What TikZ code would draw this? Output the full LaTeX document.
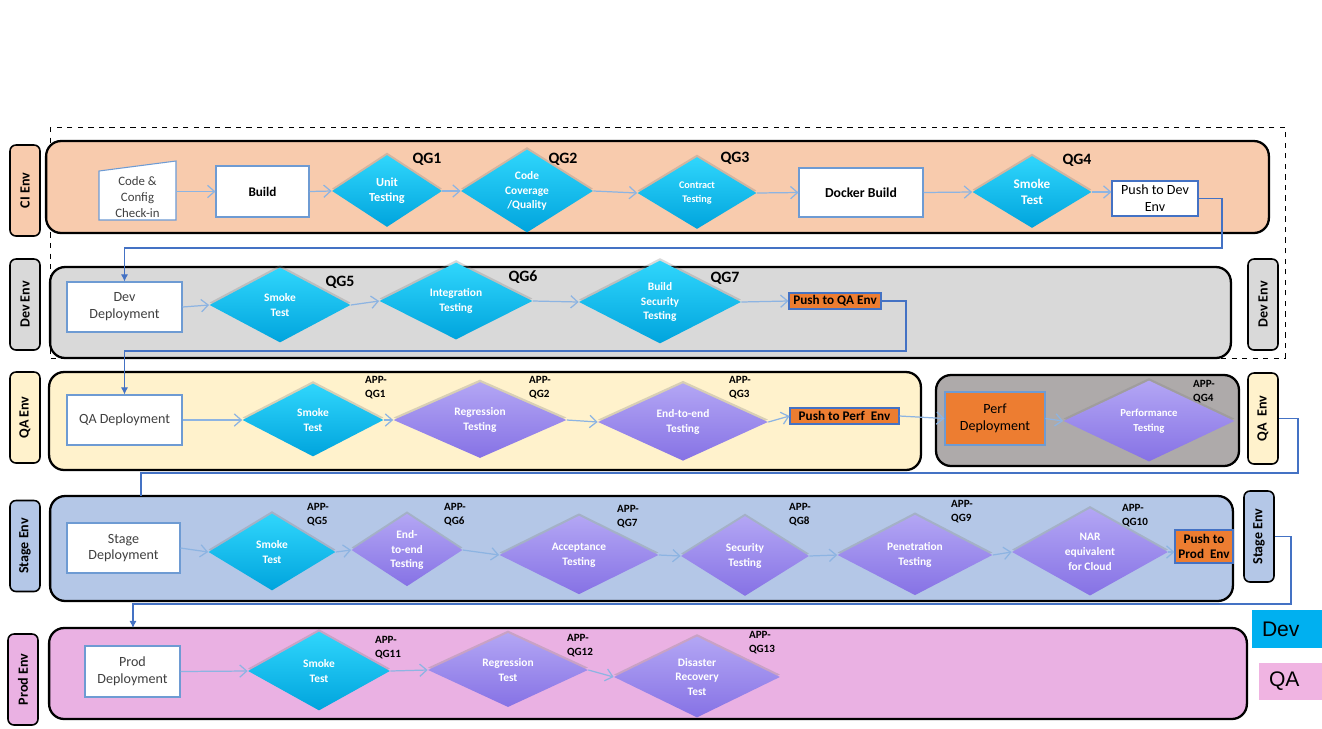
\documentclass[tikz,border=0pt]{standalone}
\usepackage{fontspec}
\setmainfont{Carlito}
\newfontfamily\keyfont{Liberation Sans}
\usetikzlibrary{shapes.geometric, arrows.meta, shadows}

\definecolor{ciFill}{HTML}{F8CBAD}
\definecolor{devFill}{HTML}{D9D9D9}
\definecolor{qaFill}{HTML}{FFF2CC}
\definecolor{perfFill}{HTML}{AEAAAA}
\definecolor{stageFill}{HTML}{B4C7E7}
\definecolor{prodFill}{HTML}{EAB1E3}
\definecolor{pushFill}{HTML}{ED7D31}
\definecolor{boxLine}{HTML}{6E9BD3}
\definecolor{pushLine}{HTML}{4472C4}
\definecolor{flowBlue}{HTML}{8DB4E2}
\definecolor{hopBlue}{HTML}{4472C4}
\definecolor{darkText}{HTML}{404040}
\definecolor{cyanTop}{HTML}{30D6FC}
\definecolor{cyanBot}{HTML}{00A4DD}
\definecolor{violetTop}{HTML}{B3A6F4}
\definecolor{violetBot}{HTML}{8672E5}
\definecolor{devKey}{HTML}{00B0F0}
\definecolor{qaKey}{HTML}{F0B4E2}

\tikzset{
  lane/.style={draw=black, line width=1.3pt, rounded corners=0.3cm, inner sep=0pt},
  envtag/.style={draw=black, line width=0.9pt, rounded corners=0.12cm, rotate=90,
    minimum width=1.82cm, minimum height=0.6cm, inner sep=0pt,
    font=\fontsize{8}{9}\selectfont\bfseries},
  wbox/.style={draw=boxLine, fill=white, line width=0.6pt, align=center, inner sep=1pt,
    text=darkText, font=\fontsize{8}{9.6}\selectfont},
  pushbox/.style={draw=pushLine, fill=pushFill, line width=0.6pt, align=center, inner sep=0pt,
    font=\fontsize{7.5}{9}\selectfont\bfseries},
  gate/.style={diamond, inner sep=0pt, text=white, align=center,
    font=\fontsize{6.5}{8.4}\selectfont\bfseries,
    drop shadow={shadow xshift=0pt, shadow yshift=0.05cm, opacity=0.3}},
  cyangate/.style={gate, top color=cyanTop, bottom color=cyanBot},
  violetgate/.style={gate, top color=violetTop, bottom color=violetBot},
  qg/.style={font=\fontsize{9}{10}\selectfont\bfseries},
  appqg/.style={align=left, font=\fontsize{6.3}{8}\selectfont\bfseries},
  flow/.style={draw=flowBlue, line width=0.7pt, ->},
  hop/.style={draw=hopBlue, line width=0.6pt, -{Latex[length=4pt,width=4pt]}},
  hopline/.style={draw=hopBlue, line width=0.6pt},
  keybox/.style={text width=1.0cm, inner xsep=0.2cm, align=left, font=\keyfont\fontsize{12}{14}\selectfont}
}

\begin{document}
\begin{tikzpicture}[x=0.02cm, y=-0.02cm, >={Straight Barb[length=4pt,width=7pt]}]

    \useasboundingbox (0,0) rectangle (1322,728);

    % CI + Dev frame
    \draw[dashed, thin] (50,127) rectangle (1285,358);

    % Lanes
    \node[lane, fill=ciFill, minimum width=24.46cm, minimum height=1.84cm] (ci) at (657.5,187) {};
    \node[lane, fill=devFill, minimum width=23.62cm, minimum height=1.82cm] (dev) at (640.5,312.5) {};
    \node[lane, fill=qaFill, minimum width=17.44cm, minimum height=1.96cm] (qa) at (485,421) {};
    \node[lane, fill=perfFill, minimum width=6.06cm, minimum height=1.82cm] (perf) at (1087.5,420.5) {};
    \node[lane, fill=stageFill, minimum width=23.66cm, minimum height=2.1cm] (stage) at (641.5,548.5) {};
    \node[lane, fill=prodFill, minimum width=23.96cm, minimum height=1.82cm] (prod) at (648,673.5) {};

    % Environment tags
    \node[envtag, fill=ciFill] (ciL) at (25,190.5) {CI Env};
    \node[envtag, fill=devFill] (devL) at (25,304.5) {Dev Env};
    \node[envtag, fill=devFill] (devR) at (1263,304.5) {Dev Env};
    \node[envtag, fill=qaFill] (qaL) at (25,417.5) {QA Env};
    \node[envtag, fill=qaFill] (qaR) at (1263,418.5) {QA\ \ Env};
    \node[envtag, fill=stageFill] (stageL) at (25,546) {Stage Env};
    \node[envtag, fill=stageFill] (stageR) at (1259,536.5) {Stage Env};
    \node[envtag, fill=prodFill] (prodL) at (23,679.5) {Prod Env};

    % CI row
    \filldraw[draw=boxLine, fill=white, line width=0.6pt] (99,171) -- (176,161) -- (176,220) -- (99,220) -- cycle;
    \node[align=center, text=darkText, font=\fontsize{7.3}{9}\selectfont, minimum width=1.54cm] (code) at (137.5,197) {Code \&\\Config\\Check-in};
    \node[wbox, text=black, font=\fontsize{7.5}{9}\selectfont\bfseries, minimum width=1.86cm, minimum height=1.02cm] (build) at (262.5,191.5) {Build};
    \node[cyangate, minimum width=2.2cm, minimum height=1.44cm, font=\fontsize{7}{8.6}\selectfont\bfseries] (unit) at (387,191) {Unit\\Testing};
    \node[cyangate, minimum width=2.64cm, minimum height=1.44cm] (cov) at (527,191) {Code\\Coverage\\/Quality};
    \node[cyangate, minimum width=2.38cm, minimum height=1.44cm, font=\fontsize{5.8}{7.6}\selectfont\bfseries] (contract) at (697,193) {Contract\\Testing};
    \node[wbox, text=black, font=\fontsize{7.8}{9}\selectfont\bfseries, minimum width=2.48cm, minimum height=0.98cm] (docker) at (861,192.5) {Docker Build};
    \node[cyangate, minimum width=2.38cm, minimum height=1.44cm, font=\fontsize{7.5}{9}\selectfont\bfseries] (smokeci) at (1032,192) {Smoke\\Test};
    \node[wbox, draw=pushLine, text=black, minimum width=1.72cm, minimum height=0.7cm] (pushdev) at (1155,198.5) {Push to Dev\\Env};
    \node[qg] (qg1) at (427,159) {QG1};
    \node[qg] (qg2) at (563,159) {QG2};
    \node[qg] (qg3) at (735,158) {QG3};
    \node[qg] (qg4) at (1077,160) {QG4};

    \draw[flow] (code.east |- build) -- (build.west);
    \draw[flow] (build.east) -- (unit.west);
    \draw[flow] (unit.east) -- (cov.west);
    \draw[flow] (cov.east) -- (contract.west);
    \draw[flow] (contract.east) -- (docker.west);
    \draw[flow] (docker.east) -- (smokeci.west);
    \draw[flow] (smokeci.east) -- (pushdev.west |- smokeci);

    % Dev row
    \node[wbox, minimum width=2.3cm, minimum height=1.0cm] (devdep) at (124.5,307) {Dev\\Deployment};
    \node[cyangate, minimum width=2.82cm, minimum height=1.5cm] (smokedev) at (280,305) {Smoke\\Test};
    \node[cyangate, minimum width=3.06cm, minimum height=1.44cm] (integ) at (456,301) {Integration\\Testing};
    \node[cyangate, minimum width=3.24cm, minimum height=1.66cm] (buildsec) at (660,302) {Build\\Security\\Testing};
    \node[pushbox, minimum width=1.84cm, minimum height=0.32cm] (pushqa) at (835,301) {Push to QA Env};
    \node[qg] (qg5) at (340,282) {QG5};
    \node[qg] (qg6) at (523,277) {QG6};
    \node[qg] (qg7) at (725,278) {QG7};

    \draw[flow] (devdep.east) -- (smokedev.west);
    \draw[flow] (smokedev.east) -- (integ.west);
    \draw[flow] (integ.east) -- (buildsec.west);
    \draw[flow] (buildsec.east) -- (pushqa.west);

    % QA row
    \node[wbox, minimum width=2.3cm, minimum height=1.0cm] (qadep) at (124.5,420) {QA Deployment};
    \node[cyangate, minimum width=2.82cm, minimum height=1.46cm] (smokeqa) at (313,420) {Smoke\\Test};
    \node[violetgate, minimum width=3.46cm, minimum height=1.46cm] (regqa) at (480,420) {Regression\\Testing};
    \node[violetgate, minimum width=3.4cm, minimum height=1.5cm] (e2eqa) at (683,422) {End-to-end\\Testing};
    \node[pushbox, minimum width=2.18cm, minimum height=0.32cm] (pushperf) at (844.5,416) {Push to Perf\ \ Env};
    \node[wbox, draw=boxLine, fill=pushFill, text=black, minimum width=2.0cm, minimum height=1.06cm] (perfdep) at (995,418.5) {Perf\\Deployment};
    \node[violetgate, minimum width=3.42cm, minimum height=1.46cm, font=\fontsize{6.1}{8.3}\selectfont\bfseries] (perftest) at (1149,421) {Performance\\Testing};
    \node[appqg] (aqg1) at (376,388) {APP-\\QG1};
    \node[appqg] (aqg2) at (540,388) {APP-\\QG2};
    \node[appqg] (aqg3) at (740,388) {APP-\\QG3};
    \node[appqg] (aqg4) at (1204,392) {APP-\\QG4};

    \draw[flow] (qadep.east) -- (smokeqa.west);
    \draw[flow] (smokeqa.east) -- (regqa.west);
    \draw[flow] (regqa.east) -- (e2eqa.west);
    \draw[flow] (e2eqa.east) -- (pushperf.west);
    \draw[flow] (pushperf.east) -- (perfdep.west);
    \draw[flow] (perfdep.east) -- (perftest.west);

    % Stage row
    \node[wbox, minimum width=2.26cm, minimum height=1.0cm] (stagedep) at (123.5,548) {Stage\\Deployment};
    \node[cyangate, minimum width=2.54cm, minimum height=1.54cm] (smokest) at (272,552) {Smoke\\Test};
    \node[violetgate, minimum width=2.22cm, minimum height=1.42cm] (e2est) at (407,550) {End-\\to-end\\Testing};
    \node[violetgate, minimum width=3.18cm, minimum height=1.46cm] (accept) at (579,555) {Acceptance\\Testing};
    \node[violetgate, minimum width=2.56cm, minimum height=1.6cm] (sectest) at (745,556) {Security\\Testing};
    \node[violetgate, minimum width=3.1cm, minimum height=1.4cm] (pentest) at (915,555) {Penetration\\Testing};
    \node[violetgate, minimum width=3.12cm, minimum height=1.44cm] (nar) at (1090,552) {NAR\\equivalent\\for Cloud};
    \node[pushbox, minimum width=1.16cm, minimum height=0.66cm] (pushprod) at (1204,546.5) {Push to\\Prod\ \ Env};
    \node[appqg] (aqg5) at (318,515) {APP-\\QG5};
    \node[appqg] (aqg6) at (455,515) {APP-\\QG6};
    \node[appqg] (aqg7) at (628,517) {APP-\\QG7};
    \node[appqg] (aqg8) at (800,515) {APP-\\QG8};
    \node[appqg] (aqg9) at (962,512) {APP-\\QG9};
    \node[appqg] (aqg10) at (1135,516) {APP-\\QG10};

    \draw[flow] (stagedep.east) -- (smokest.west);
    \draw[flow] (smokest.east) -- (e2est.west);
    \draw[flow] (e2est.east) -- (accept.west);
    \draw[flow] (accept.east) -- (sectest.west);
    \draw[flow] (sectest.east) -- (pentest.west);
    \draw[flow] (pentest.east) -- (nar.west);
    \draw[flow] (nar.east) -- (pushprod.west |- nar);

    % Prod row
    \node[wbox, minimum width=1.9cm, minimum height=1.02cm] (proddep) at (132.5,671.5) {Prod\\Deployment};
    \node[cyangate, minimum width=2.84cm, minimum height=1.58cm] (smokepr) at (319,671) {Smoke\\Test};
    \node[violetgate, minimum width=3.2cm, minimum height=1.4cm] (regpr) at (508,670) {Regression\\Test};
    \node[violetgate, minimum width=3.32cm, minimum height=1.36cm] (disaster) at (697,677) {Disaster\\Recovery\\Test};
    \node[appqg] (aqg11) at (388,648) {APP-\\QG11};
    \node[appqg] (aqg12) at (580,646) {APP-\\QG12};
    \node[appqg] (aqg13) at (762,643) {APP-\\QG13};

    \draw[flow] (proddep.east) -- (smokepr.west);
    \draw[flow] (smokepr.east) -- (regpr.west);
    \draw[flow] (regpr.east) -- (disaster.west);

    % Hand-overs between environments
    \coordinate (stagein) at (141,496);
    \coordinate (prodin) at (133,628);
    \draw[hop] (pushdev.east) -| (1222,248) -| (devdep.north);
    \draw[hop] (pushqa.east) -| (906,351) -| (qadep.north);
    \draw[hopline] (qaR.south) -| (1298,473) -| (stagein);
    \draw[hop] (stageR.south) -| (1291,604) -| (prodin);

    % Key
    \node[keybox, fill=devKey, minimum height=0.76cm] (devkey) at (1287,629) {Dev};
    \node[keybox, fill=qaKey, text width=0.86cm, minimum height=0.74cm] (qakey) at (1290.5,681.5) {QA};

\end{tikzpicture}
\end{document}
